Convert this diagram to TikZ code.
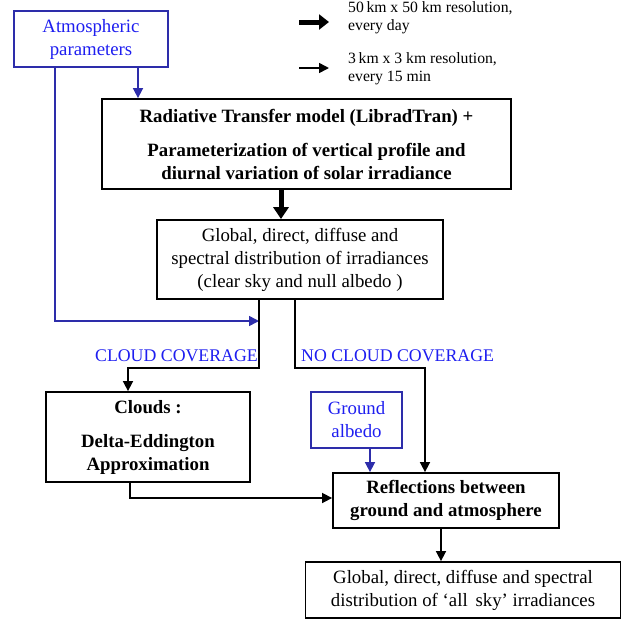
\documentclass[tikz,border=0pt]{standalone}
\usepackage{fontspec}
\setmainfont{Liberation Serif}
\usepackage{xcolor}
\usepackage{tikz}
\usetikzlibrary{positioning,calc,arrows.meta}

\definecolor{labelblue}{RGB}{30,30,240}
\definecolor{lineblue}{RGB}{45,45,170}

\begin{document}
\begin{tikzpicture}[x=1pt,y=-1pt,
    box/.style={draw, line width=1.8pt, align=center, inner sep=2pt,
        font=\fontsize{18.8}{23}\selectfont},
    boldbox/.style={box, font=\fontsize{18.8}{23}\selectfont\bfseries},
    inbox/.style={box, draw=lineblue, text=labelblue},
    arr/.style={line width=1.6pt, -{Triangle[length=10pt,width=10pt]}},
    bigarr/.style={line width=5pt, -{Triangle[length=12pt,width=15pt]}},
    bluearr/.style={arr, draw=lineblue},
    flag/.style={text=labelblue, font=\fontsize{17.8}{19}\selectfont, inner sep=0pt},
    legend/.style={align=left, font=\fontsize{15.7}{18}\selectfont, inner sep=0pt}]
    \useasboundingbox (0,0) rectangle (622,622);

    % inputs
    \node[inbox, minimum width=154, minimum height=56] (atm) at (91,39) {Atmospheric\\parameters};
    \node[inbox, minimum width=91, minimum height=56] (albedo) at (356.5,420) {Ground\\albedo};

    % main chain
    \node[boldbox, minimum width=409, minimum height=90] (rtm) at (306.5,144)
        {Radiative Transfer model (LibradTran) +\\[11pt]
         Parameterization of vertical profile and\\diurnal variation of solar irradiance};
    \node[box, minimum width=286, minimum height=79] (clear) at (300,259.5)
        {Global, direct, diffuse and\\spectral distribution of irradiances\\(clear sky and null albedo )};
    \node[boldbox, minimum width=204, minimum height=90] (clouds) at (148,437)
        {Clouds :\\[11pt]Delta-Eddington\\Approximation};
    \node[boldbox, minimum width=226, minimum height=55] (refl) at (446,500.5)
        {Reflections between\\ground and atmosphere};
    \node[box, minimum width=315, minimum height=56] (allsky) at (463,590)
        {Global, direct, diffuse and spectral\\distribution of `all\, sky' irradiances};

    % legend
    \coordinate (lga) at (299,22);
    \coordinate (lgb) at (329,22);
    \coordinate (lgc) at (299,68);
    \coordinate (lgd) at (329,68);
    \draw[line width=5pt, -{Triangle[length=10pt,width=15pt]}] (lga) -- (lgb);
    \draw[arr] (lgc) -- (lgd);
    \node[legend, anchor=west] (lgtxta) at (348,18) {50\,km x 50 km resolution,\\every day};
    \node[legend, anchor=west] (lgtxtb) at (348,69) {3\,km x 3 km resolution,\\every 15 min};

    % bend points
    \coordinate (ca) at (138,0);
    \coordinate (cb) at (55,321);
    \coordinate (cc) at (259,368);
    \coordinate (cd) at (128,368);
    \coordinate (ce) at (295,368);
    \coordinate (cf) at (425,368);
    \coordinate (cg) at (130,498);
    \coordinate (ch) at (370,0);
    \coordinate (ci) at (441,0);
    \coordinate (cj) at (281,0);

    % connectors
    \draw[bluearr] (atm.south -| ca) -- (rtm.north -| ca);
    \draw[bluearr] (atm.south -| cb) -- (cb) -- (cb -| cc);
    \draw[bigarr] (rtm.south -| cj) -- (clear.north -| cj);
    \draw[arr] (clear.south -| cc) -- (cc) -- (cd) -- (clouds.north -| cd);
    \draw[arr] (clear.south -| ce) -- (ce) -- (cf) -- (refl.north -| cf);
    \draw[arr] (clouds.south -| cg) -- (cg) -- (refl.west |- cg);
    \draw[bluearr] (albedo.south -| ch) -- (refl.north -| ch);
    \draw[arr] (refl.south -| ci) -- (allsky.north -| ci);

    % branch labels
    \node[flag, anchor=east] (cloudy) at (258,356) {CLOUD COVERAGE};
    \node[flag, anchor=west] (clearsky) at (301,356) {NO CLOUD COVERAGE};
\end{tikzpicture}
\end{document}
